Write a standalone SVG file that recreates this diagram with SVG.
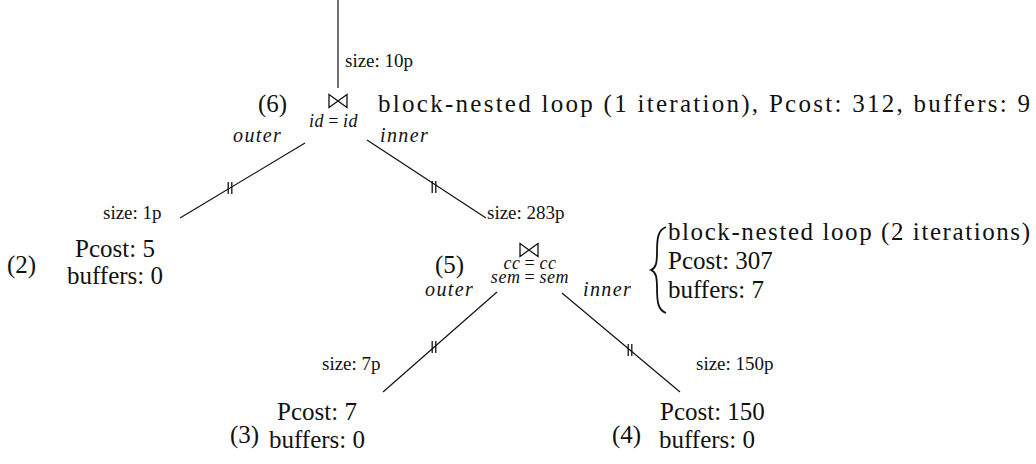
<svg xmlns="http://www.w3.org/2000/svg" width="1036" height="464" viewBox="0 0 1036 464">
  <style>
    text { font-family: "Liberation Serif", "Times New Roman", serif; fill: #111; }
    .m { font-family: "Liberation Serif", "Times New Roman", serif; font-size: 25px; }
    .s { font-family: "Liberation Serif", "Times New Roman", serif; font-size: 19px; }
    .i { font-family: "Liberation Serif", "Times New Roman", serif; font-style: italic; font-size: 20px; letter-spacing: 1.4px; }
    .sub { font-family: "Liberation Serif", "Times New Roman", serif; font-style: italic; font-size: 18px; letter-spacing: 0.6px; }
    .up { font-style: normal; }
    .c { text-anchor: middle; }
    .edge { stroke: #111; stroke-width: 1.2; fill: none; }
    .pipe { stroke: #111; stroke-width: 1.3; fill: none; }
    .op { stroke: #111; stroke-width: 1.3; fill: none; stroke-linejoin: miter; }
    .brace { stroke: #111; stroke-width: 1.8; fill: none; }
  </style>
  <defs>
    <!-- pipelining mark drawn across an edge -->
    <path id="pipe" class="pipe" d="M-1.8,-6V6M1.8,-6V6"/>
    <!-- join symbol -->
    <path id="join" class="op" d="M-9,-6.5V6.5L9,-6.5V6.5Z"/>
  </defs>

  <g id="connectors">
    <line class="edge" x1="338" y1="0" x2="338" y2="88"/>
    <line class="edge" x1="305" y1="143" x2="180" y2="218"/>
    <line class="edge" x1="367" y1="140" x2="486" y2="218"/>
    <line class="edge" x1="497" y1="292" x2="383" y2="392"/>
    <line class="edge" x1="562" y1="293" x2="680" y2="392"/>
    <use href="#pipe" x="230" y="188"/>
    <use href="#pipe" x="434" y="187"/>
    <use href="#pipe" x="434" y="347"/>
    <use href="#pipe" x="630" y="350"/>
    <text class="s" x="345" y="67">size: 10p</text>
    <text class="i" x="233" y="142">outer</text>
    <text class="i" x="380" y="142">inner</text>
    <text class="s" x="103" y="219">size: 1p</text>
    <text class="s" x="487" y="219">size: 283p</text>
    <text class="i" x="425" y="296">outer</text>
    <text class="i" x="583" y="296">inner</text>
    <text class="s" x="322" y="370">size: 7p</text>
    <text class="s" x="696" y="370">size: 150p</text>
  </g>

  <g id="node6">
    <text class="m" x="258" y="112">(6)</text>
    <use href="#join" x="338" y="101"/>
    <text class="sub" x="309" y="127">id<tspan class="up" dx="4">=</tspan><tspan dx="4">id</tspan></text>
    <text class="m" x="378" y="112" textLength="652" lengthAdjust="spacing">block-nested loop (1 iteration), Pcost: 312, buffers: 9</text>
  </g>

  <g id="node2">
    <text class="m" x="7" y="273">(2)</text>
    <text class="m c" x="115" y="257">Pcost: 5</text>
    <text class="m c" x="115" y="284">buffers: 0</text>
  </g>

  <g id="node5">
    <text class="m" x="435" y="273">(5)</text>
    <use href="#join" x="529" y="250"/>
    <text class="sub c" x="530" y="269">cc<tspan class="up" dx="4">=</tspan><tspan dx="4">cc</tspan></text>
    <text class="sub c" x="530" y="283">sem<tspan class="up" dx="4">=</tspan><tspan dx="4">sem</tspan></text>
    <path class="brace" d="M666,227C658,230 657,238 657,252C657,263 656,268 651,270C656,272 657,277 657,288C657,302 658,310 666,313"/>
    <text class="m" x="668" y="240" textLength="362" lengthAdjust="spacing">block-nested loop (2 iterations)</text>
    <text class="m" x="668" y="269">Pcost: 307</text>
    <text class="m" x="668" y="298">buffers: 7</text>
  </g>

  <g id="node3">
    <text class="m" x="230" y="443">(3)</text>
    <text class="m c" x="317" y="420">Pcost: 7</text>
    <text class="m c" x="317" y="448">buffers: 0</text>
  </g>

  <g id="node4">
    <text class="m" x="612" y="443">(4)</text>
    <text class="m" x="660" y="420">Pcost: 150</text>
    <text class="m" x="659" y="448">buffers: 0</text>
  </g>
</svg>
